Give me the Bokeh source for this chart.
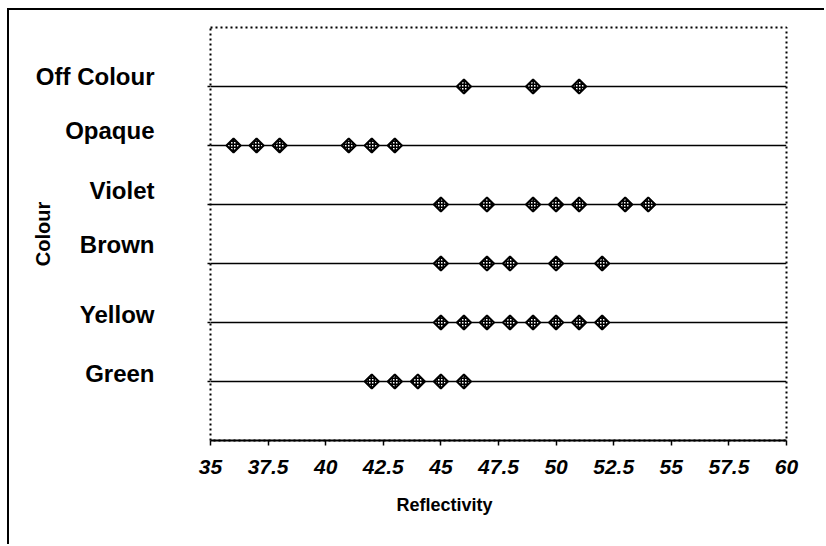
import numpy as np
from bokeh.plotting import figure
from bokeh.models import FixedTicker, Range1d, LinearAxis, Title
from bokeh.embed import file_html
from bokeh.resources import INLINE

# ---- data ----
categories = ["Green", "Yellow", "Brown", "Violet", "Opaque", "Off Colour"]
green = [42, 43, 44, 45, 46]
yellow = [45, 46, 47, 48, 49, 50, 51, 52]
brown = [45, 47, 48, 50, 52]
violet = [45, 47, 49, 50, 51, 53, 54]
opaque = [36, 37, 38, 41, 42, 43]
off_colour = [46, 49, 51]
series = [green, yellow, brown, violet, opaque, off_colour]

x_ticks = [35, 37.5, 40, 42.5, 45, 47.5, 50, 52.5, 55, 57.5, 60]
x_tick_labels = ["35", "37.5", "40", "42.5", "45", "47.5", "50", "52.5", "55", "57.5", "60"]
x_min, x_max = 35, 60

# vertical lift of each category name above its line (in row units)
label_lift = [0.14, 0.14, 0.32, 0.24, 0.25, 0.17]

FONT = "Liberation Sans"

p = figure(width=817, height=536, output_backend="svg", toolbar_location=None,
           x_range=Range1d(x_min, x_max), y_range=Range1d(0, len(categories) + 1),
           min_border_left=201, min_border_right=40, min_border_top=17,
           min_border_bottom=106)
p.margin = (8, 0, 0, 7)
p.styles = {"border-top": "2px solid black", "border-left": "2px solid black"}
p.background_fill_color = "white"
p.border_fill_color = "white"
p.xgrid.visible = False
p.ygrid.visible = False
p.outline_line_color = "black"
p.outline_line_dash = "2 3"
p.outline_line_width = 2

# x axis
xa = p.xaxis[0]
xa.ticker = FixedTicker(ticks=x_ticks)
xa.major_label_overrides = {t: l for t, l in zip(x_ticks, x_tick_labels)}
xa.axis_line_color = "black"
xa.axis_line_width = 2
xa.major_tick_line_color = "black"
xa.major_tick_line_width = 1.5
xa.major_tick_out = 5
xa.major_tick_in = 0
xa.minor_tick_line_color = None
xa.major_label_text_font = FONT
xa.major_label_text_font_style = "bold italic"
xa.major_label_text_font_size = "21px"
xa.major_label_text_color = "black"
xa.major_label_standoff = 14

# x title, offset to the left as in the original
p.add_layout(Title(text="Reflectivity", align="left", offset=186, standoff=33,
                   text_font=FONT, text_font_style="bold", text_font_size="18px",
                   text_color="black"), "below")

# y axis (tick marks only)
ya = p.yaxis[0]
yvals = list(range(1, len(categories) + 1))
ya.ticker = FixedTicker(ticks=yvals)
ya.major_label_overrides = {v: "" for v in yvals}
ya.axis_line_color = None
ya.major_tick_line_color = "black"
ya.major_tick_line_width = 1.5
ya.major_tick_out = 3
ya.major_tick_in = 0
ya.minor_tick_line_color = None
ya.major_label_standoff = 0
ya.major_label_text_font_size = "1px"

# second left axis carrying the category names and the title
label_pos = [round(v + d, 2) for v, d in zip(yvals, label_lift)]
ya2 = LinearAxis(ticker=FixedTicker(ticks=label_pos),
                 major_label_overrides={pos: name for pos, name in zip(label_pos, categories)})
ya2.axis_line_color = None
ya2.major_tick_line_color = None
ya2.minor_tick_line_color = None
ya2.major_label_standoff = 47
ya2.major_label_text_font = FONT
ya2.major_label_text_font_style = "bold"
ya2.major_label_text_font_size = "24px"
ya2.major_label_text_color = "black"
ya2.axis_label = "Colour"
ya2.axis_label_text_font = FONT
ya2.axis_label_text_font_style = "bold"
ya2.axis_label_text_font_size = "20px"
ya2.axis_label_text_color = "black"
ya2.axis_label_standoff = -21
p.add_layout(ya2, "left")

# horizontal category lines
p.segment(x0=[x_min] * len(categories), x1=[x_max] * len(categories),
          y0=yvals, y1=yvals, line_color="black", line_width=1.6)

# points
xs, ys = [], []
for yv, vals in zip(yvals, series):
    xs.extend(vals)
    ys.extend([yv] * len(vals))
p.scatter(x=xs, y=ys, marker="square", angle=np.pi / 4, size=10,
          fill_color="white", line_color="black", line_width=2,
          hatch_pattern="+", hatch_color="black", hatch_scale=3, hatch_weight=2)

open("out.html", "w").write(file_html(p, INLINE))
